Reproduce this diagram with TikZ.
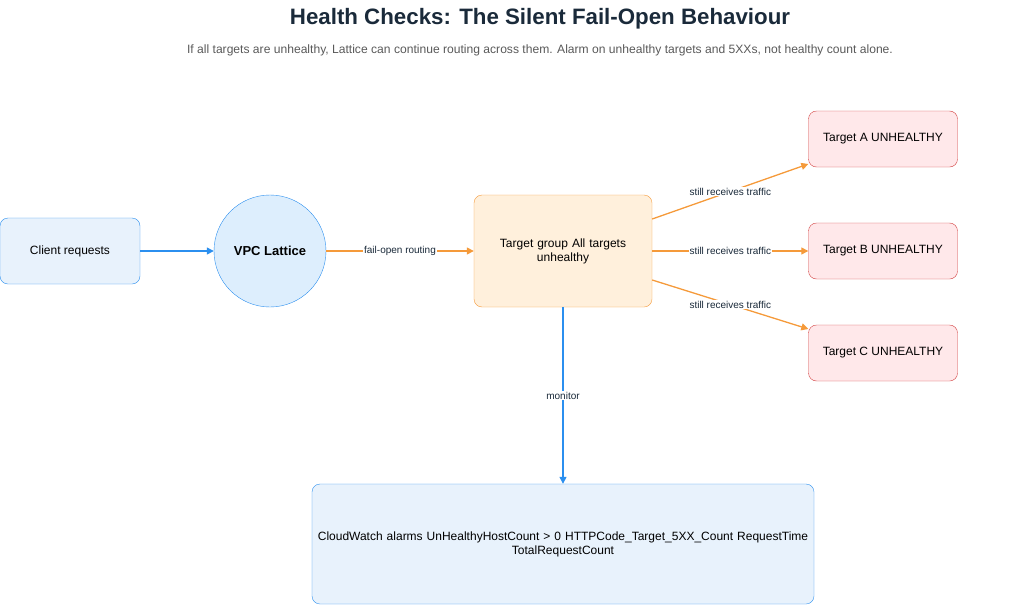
\documentclass[tikz,border=0pt]{standalone}
\usepackage{fontspec}
\setmainfont{Liberation Sans}
\usetikzlibrary{arrows.meta}
\definecolor{bluefill}{HTML}{E8F2FC}
\definecolor{circfill}{HTML}{DDEEFD}
\definecolor{blueline}{HTML}{2B8FEF}
\definecolor{orangefill}{HTML}{FFF0DC}
\definecolor{orangeline}{HTML}{F59A3A}
\definecolor{redfill}{HTML}{FFE8EA}
\definecolor{redline}{HTML}{D23F3F}
\definecolor{titlecol}{HTML}{1A2A3A}
\begin{document}
\begin{tikzpicture}[x=1pt,y=-1pt,
	box/.style={draw, rounded corners=8pt, align=center, font=\fontsize{12}{14}\selectfont, inner sep=0pt},
	client/.style={box, fill=bluefill, draw=blueline},
	target/.style={box, fill=redfill, draw=redline, minimum width=149pt, minimum height=56pt},
	lbl/.style={fill=white, inner sep=1pt, font=\fontsize{10}{12}\selectfont, text=titlecol},
	barrow/.style={-{Triangle[length=7pt,width=7pt]}, blueline, line width=1.3pt},
	oarrow/.style={-{Triangle[length=7pt,width=7pt]}, orangeline, line width=1.3pt}]
	\useasboundingbox (0,0) rectangle (1024,605);
	\node[font=\bfseries\fontsize{22.3}{26}\selectfont, text=titlecol] (title) at (540,19) {Health Checks: The Silent Fail-Open Behaviour};
	\node[font=\fontsize{12.1}{14}\selectfont, text=black!65] (sub) at (540,50) {If all targets are unhealthy, Lattice can continue routing across them. Alarm on unhealthy targets and 5XXs, not healthy count alone.};
	
	\node[client, minimum width=140pt, minimum height=66pt] (client) at (70,251) {Client requests};
	\node[draw=blueline, fill=circfill, circle, minimum size=112pt, font=\bfseries\fontsize{13}{15}\selectfont, inner sep=0pt] (vpc) at (270,251) {VPC Lattice};
	\node[box, fill=orangefill, draw=orangeline, minimum width=178pt, minimum height=112pt, text width=160pt] (tg) at (563,251) {Target group All targets\\unhealthy};
	\node[target] (ta) at (883,139) {Target A UNHEALTHY};
	\node[target] (tb) at (883,251) {Target B UNHEALTHY};
	\node[target] (tc) at (883,353) {Target C UNHEALTHY};
	\node[client, minimum width=502pt, minimum height=120pt, text width=495pt] (cw) at (563,544) {CloudWatch alarms UnHealthyHostCount > 0 HTTPCode\_Target\_5XX\_Count RequestTime\\TotalRequestCount};
	
	\draw[barrow] (client) -- (vpc);
	\draw[oarrow] (vpc) -- node[lbl] {fail-open routing} (tg);
	\draw[oarrow] (tg.east |- 0,219) -- node[lbl, pos=0.5] {still receives traffic} (ta.west |- 0,164);
	\draw[oarrow] (tg) -- node[lbl, pos=0.5] {still receives traffic} (tb);
	\draw[oarrow] (tg.east |- 0,280) -- node[lbl, pos=0.5] {still receives traffic} (tc.west |- 0,329);
	\draw[barrow] (tg) -- node[lbl] {monitor} (cw);
\end{tikzpicture}
\end{document}
